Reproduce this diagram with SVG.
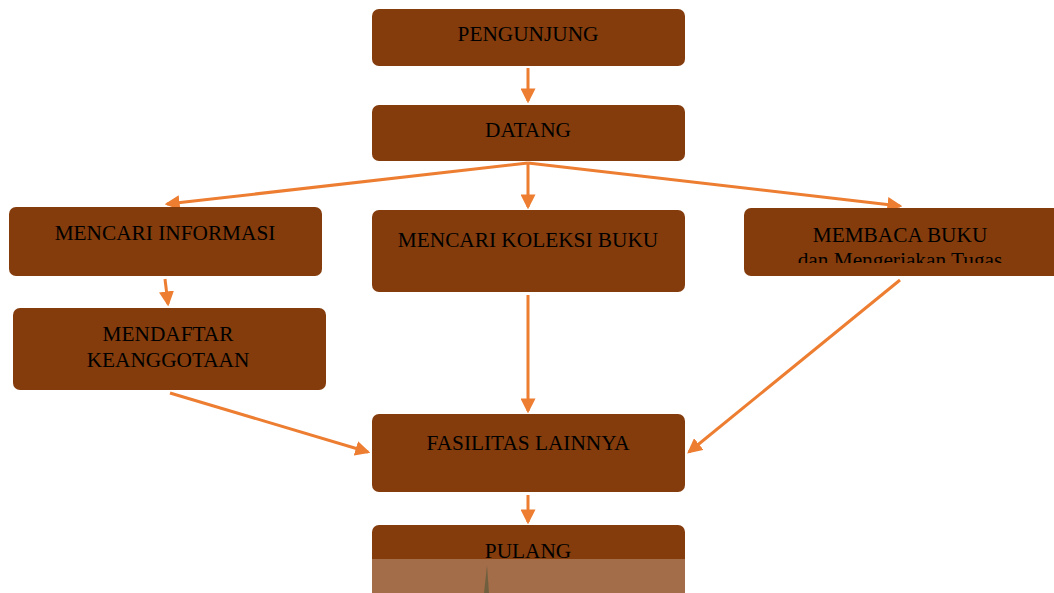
<svg xmlns="http://www.w3.org/2000/svg" width="1054" height="593" viewBox="0 0 1054 593">
<style>
.node{fill:#843C0C;}
.t{font-family:"Liberation Serif","Times New Roman",serif;font-size:21.3px;fill:#000;text-anchor:middle;}
.t2{font-family:"Liberation Serif","Times New Roman",serif;font-size:21.3px;fill:#000;text-anchor:middle;}
.c{stroke:#ED7D31;stroke-width:3;fill:none;marker-end:url(#ah);}
</style>
<defs>
<marker id="ah" markerWidth="5" markerHeight="5" refX="4.2" refY="2.5" orient="auto" markerUnits="strokeWidth">
<path d="M0,0 L5,2.5 L0,5 Z" fill="#ED7D31"/>
</marker>
<clipPath id="clipM"><rect x="744" y="208" width="310" height="55"/></clipPath>
</defs>
<rect width="1054" height="593" fill="#fff"/>
<g id="connectors">
<line class="c" x1="528" y1="68" x2="528" y2="101"/>
<line class="c" x1="528" y1="163" x2="167" y2="204"/>
<line class="c" x1="528" y1="163" x2="528" y2="207"/>
<line class="c" x1="528" y1="163" x2="900" y2="206"/>
<line class="c" x1="165" y1="279" x2="168" y2="304"/>
<line class="c" x1="528" y1="295" x2="528" y2="411"/>
<line class="c" x1="170" y1="393" x2="368" y2="452"/>
<line class="c" x1="900" y1="280" x2="689" y2="452"/>
<line class="c" x1="528" y1="495" x2="528" y2="522"/>
</g>
<g id="pengunjung">
<rect class="node" x="372" y="9" width="313" height="57" rx="7"/>
<text class="t" x="528" y="41">PENGUNJUNG</text>
</g>
<g id="datang">
<rect class="node" x="372" y="105" width="313" height="56" rx="7"/>
<text class="t" x="528" y="137">DATANG</text>
</g>
<g id="mencari-informasi">
<rect class="node" x="9" y="207" width="313" height="69" rx="7"/>
<text class="t" x="165" y="240">MENCARI INFORMASI</text>
</g>
<g id="mencari-koleksi">
<rect class="node" x="372" y="210" width="313" height="82" rx="7"/>
<text class="t" x="528" y="247">MENCARI KOLEKSI BUKU</text>
</g>
<g id="membaca-buku">
<rect class="node" x="744" y="208" width="316" height="68" rx="7"/>
<text class="t" x="900" y="242">MEMBACA BUKU</text>
<text class="t2" x="900" y="267" clip-path="url(#clipM)">dan Mengerjakan Tugas</text>
</g>
<g id="mendaftar">
<rect class="node" x="13" y="308" width="313" height="82" rx="7"/>
<text class="t" x="168" y="341">MENDAFTAR</text>
<text class="t" x="168" y="367">KEANGGOTAAN</text>
</g>
<g id="fasilitas">
<rect class="node" x="372" y="414" width="313" height="78" rx="7"/>
<text class="t" x="528" y="450">FASILITAS LAINNYA</text>
</g>
<g id="pulang">
<rect class="node" x="372" y="525" width="313" height="80" rx="7"/>
<text class="t" x="528" y="558">PULANG</text>
<rect x="372" y="559" width="313" height="34" fill="#fff" opacity="0.25"/>
<path d="M484,593 L487,565 L489,593 Z" fill="#5a5a3a" opacity="0.7"/>
</g>
</svg>
